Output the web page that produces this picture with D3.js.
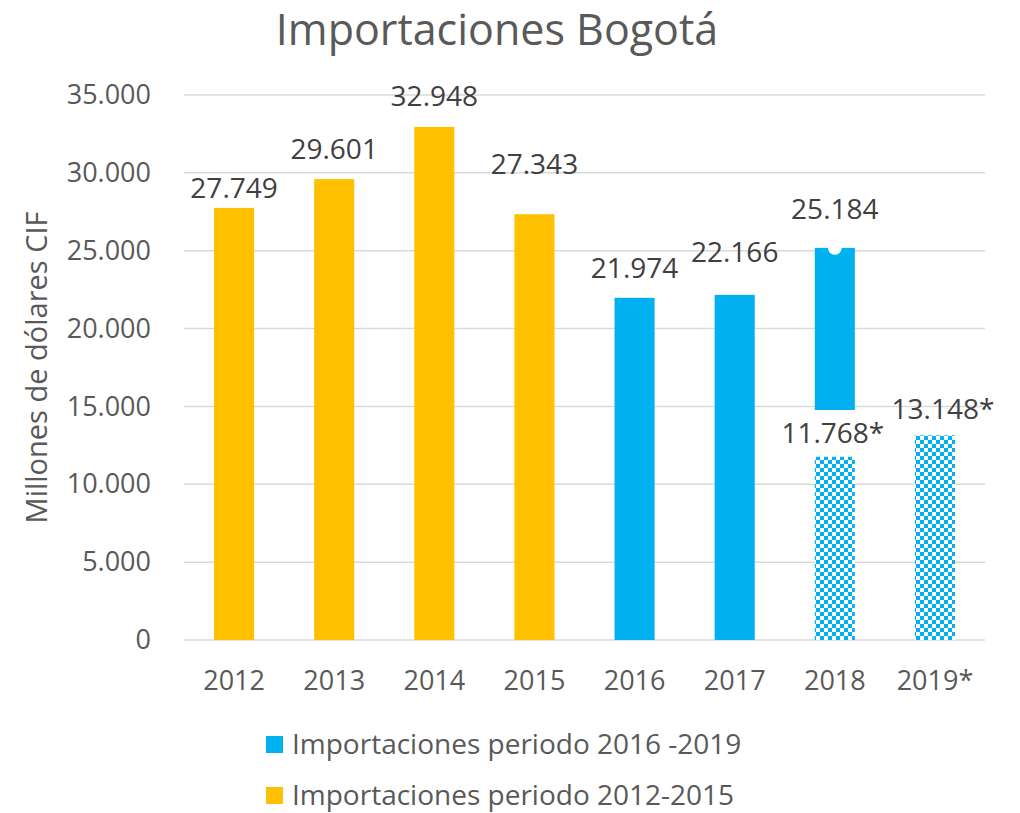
<!DOCTYPE html>
<html>
<head>
<meta charset="utf-8">
<script src="https://cdn.jsdelivr.net/npm/d3@7"></script>
<style>
  body { margin: 0; background: #fff; }
  text { font-family: "Open Sans", "Liberation Sans", sans-serif; }
</style>
</head>
<body>
<div id="chart"></div>
<script>
// datos
const years = ["2012", "2013", "2014", "2015", "2016", "2017", "2018", "2019*"];
const annualValues = [27749, 29601, 32948, 27343, 21974, 22166, 25184, null];
const partialValues = [null, null, null, null, null, null, 11768, 13148];
const period = ["2012-2015", "2012-2015", "2012-2015", "2012-2015", "2016-2019", "2016-2019", "2016-2019", "2016-2019"];
// la barra 2018 completa arranca por encima del dato parcial
const annualBase = [0, 0, 0, 0, 0, 0, 14770, 0];
const yTicks = [0, 5000, 10000, 15000, 20000, 25000, 30000, 35000];
const legendItems = [
  { label: "Importaciones periodo 2016 -2019", key: "2016-2019" },
  { label: "Importaciones periodo 2012-2015", key: "2012-2015" }
];

// las etiquetas estaban movidas a mano en el original (px sobre la barra)
const labelLift = [10, 20, 21, 40, 20, 33, 29, 0];
const partialLift = [14, 16];
const partialShift = [-2, 8];

const width = 1020, height = 813;
const margin = { top: 95, right: 35, bottom: 173, left: 184 };
const colors = { "2012-2015": "#FFC000", "2016-2019": "#00B0F0" };
const fmt = v => d3.format(",")(v).replace(/,/g, ".");

const svg = d3.select("#chart").append("svg")
    .attr("width", width)
    .attr("height", height);

// patron de cuadros para los datos parciales
const pat = svg.append("defs").append("pattern")
    .attr("id", "checker")
    .attr("patternUnits", "userSpaceOnUse")
    .attr("width", 8).attr("height", 8);
pat.append("rect").attr("width", 8).attr("height", 8).attr("fill", "#fff");
pat.append("rect").attr("width", 4).attr("height", 4).attr("fill", "#00B0F0");
pat.append("rect").attr("x", 4).attr("y", 4).attr("width", 4).attr("height", 4).attr("fill", "#00B0F0");

const x = d3.scaleBand()
    .domain(years)
    .range([margin.left, width - margin.right])
    .paddingInner(0.6)
    .paddingOuter(0.3);

const y = d3.scaleLinear()
    .domain([0, 35000])
    .range([height - margin.bottom, margin.top]);

// titulo
svg.append("text")
    .attr("x", 497).attr("y", 45)
    .attr("text-anchor", "middle")
    .attr("font-size", 43)
    .attr("fill", "#595959")
    .text("Importaciones Bogotá");

// lineas de cuadricula
svg.append("g")
  .selectAll("line")
  .data(yTicks)
  .join("line")
    .attr("x1", margin.left).attr("x2", width - margin.right)
    .attr("y1", d => y(d)).attr("y2", d => y(d))
    .attr("stroke", "#d9d9d9")
    .attr("stroke-width", 1.5);

// eje y
const yAxis = svg.append("g")
    .attr("transform", `translate(${margin.left - 30},0)`)
    .call(d3.axisLeft(y).tickValues(yTicks).tickFormat(fmt).tickSize(0));
yAxis.select(".domain").remove();
yAxis.selectAll("text")
    .attr("font-size", 27)
    .attr("fill", "#595959")
    .attr("font-family", "'Open Sans', sans-serif");

svg.append("text")
    .attr("transform", `translate(47,${(margin.top + height - margin.bottom) / 2}) rotate(-90)`)
    .attr("text-anchor", "middle")
    .attr("font-size", 29)
    .attr("fill", "#595959")
    .text("Millones de dólares CIF");

// eje x
const xAxis = svg.append("g")
    .attr("transform", `translate(0,${height - margin.bottom + 28})`)
    .call(d3.axisBottom(x).tickSize(0));
xAxis.select(".domain").remove();
xAxis.selectAll("text")
    .attr("font-size", 27)
    .attr("fill", "#595959")
    .attr("font-family", "'Open Sans', sans-serif");

// barras anuales
const bars = years.map((yr, i) => ({ yr, i, v: annualValues[i], base: annualBase[i], p: period[i] }))
    .filter(d => d.v != null);

svg.append("g")
  .selectAll("rect")
  .data(bars)
  .join("rect")
    .attr("x", d => x(d.yr))
    .attr("width", x.bandwidth())
    .attr("y", d => y(d.v))
    .attr("height", d => y(d.base) - y(d.v))
    .attr("fill", d => colors[d.p]);

// muesca blanca en la barra 2018
svg.append("circle")
    .attr("cx", x("2018") + x.bandwidth() / 2)
    .attr("cy", y(annualValues[6]))
    .attr("r", 7)
    .attr("fill", "#fff");

// barras parciales
const partial = years.map((yr, i) => ({ yr, v: partialValues[i] })).filter(d => d.v != null);

svg.append("g")
  .selectAll("rect")
  .data(partial)
  .join("rect")
    .attr("x", d => x(d.yr))
    .attr("width", x.bandwidth())
    .attr("y", d => y(d.v))
    .attr("height", d => y(0) - y(d.v))
    .attr("fill", "url(#checker)");

// etiquetas de valores
svg.append("g")
  .selectAll("text")
  .data(bars)
  .join("text")
    .attr("x", d => x(d.yr) + x.bandwidth() / 2)
    .attr("y", d => y(d.v) - labelLift[d.i])
    .attr("text-anchor", "middle")
    .attr("font-size", 28)
    .attr("fill", "#404040")
    .text(d => fmt(d.v));

svg.append("g")
  .selectAll("text")
  .data(partial)
  .join("text")
    .attr("x", (d, i) => x(d.yr) + x.bandwidth() / 2 + partialShift[i])
    .attr("y", (d, i) => y(d.v) - partialLift[i])
    .attr("text-anchor", "middle")
    .attr("font-size", 28)
    .attr("fill", "#404040")
    .text(d => fmt(d.v) + "*");

// leyenda
const legend = svg.append("g")
  .selectAll("g")
  .data(legendItems)
  .join("g")
    .attr("transform", (d, i) => `translate(266,${744 + i * 51})`);

legend.append("rect")
    .attr("y", -8)
    .attr("width", 17).attr("height", 17)
    .attr("fill", d => colors[d.key]);

legend.append("text")
    .attr("x", 26)
    .attr("dy", "0.35em")
    .attr("font-size", 28)
    .attr("fill", "#595959")
    .text(d => d.label);
</script>
</body>
</html>
